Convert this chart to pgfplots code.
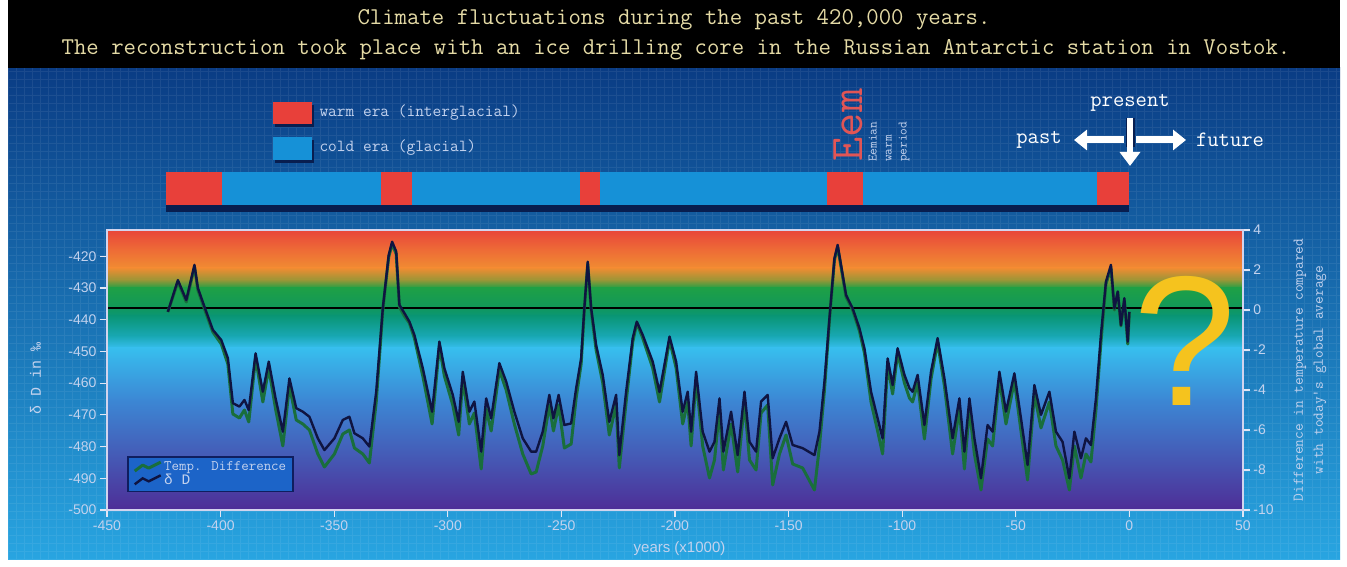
\documentclass[border=0pt]{standalone}
\usepackage{pgfplots}
\usepackage{pgfplotstable}
\pgfplotsset{compat=1.18}
\usepackage{fontspec}
\setmainfont{Liberation Sans}
\newfontfamily\lmono{Liberation Mono}
\usetikzlibrary{arrows.meta}

\definecolor{bgtop}{RGB}{10,60,132}
\definecolor{bgmid}{RGB}{20,105,185}
\definecolor{bgbot}{RGB}{40,165,225}
\definecolor{titlec}{RGB}{228,218,165}
\definecolor{labc}{RGB}{195,210,238}
\definecolor{framec}{RGB}{210,212,238}
\definecolor{tickc}{RGB}{225,230,245}
\definecolor{warmc}{RGB}{232,64,58}
\definecolor{coldc}{RGB}{22,145,215}
\definecolor{barshadow}{RGB}{8,30,80}
\definecolor{eemc}{RGB}{225,85,85}
\definecolor{qyellow}{RGB}{245,195,30}
\definecolor{greenc}{RGB}{25,110,60}
\definecolor{navyc}{RGB}{15,20,65}
\definecolor{legfill}{RGB}{28,100,200}
\definecolor{legdraw}{RGB}{15,30,95}
\definecolor{c1}{RGB}{232,68,58}
\definecolor{c2}{RGB}{238,108,54}
\definecolor{c3}{RGB}{240,140,50}
\definecolor{c4}{RGB}{150,150,55}
\definecolor{c5}{RGB}{30,160,70}
\definecolor{c6}{RGB}{18,152,88}
\definecolor{c7}{RGB}{10,150,118}
\definecolor{c8}{RGB}{25,168,180}
\definecolor{c9}{RGB}{55,190,238}
\definecolor{c10}{RGB}{60,135,212}
\definecolor{c11}{RGB}{68,95,185}
\definecolor{c12}{RGB}{78,45,150}

% delta D (per mil), navy series
\pgfplotstableread{
year dD
-423.2 -437.5
-418.8 -427.5
-415.1 -433.8
-411.5 -422.7
-410.0 -430.0
-407.1 -435.9
-403.4 -443.2
-399.7 -446.4
-396.8 -452.1
-394.6 -466.3
-391.7 -467.4
-389.5 -465.3
-387.6 -468.5
-384.6 -450.6
-381.4 -462.7
-378.8 -453.2
-375.8 -464.8
-372.6 -475.3
-369.7 -458.5
-366.7 -467.9
-363.8 -469.0
-360.9 -470.6
-357.2 -477.4
-354.3 -481.1
-349.9 -477.4
-346.2 -471.6
-343.3 -470.6
-341.1 -475.8
-337.4 -477.4
-334.5 -480.0
-331.5 -462.7
-328.6 -436.4
-326.0 -419.6
-324.5 -415.4
-322.7 -418.5
-321.3 -435.3
-319.1 -437.9
-316.9 -440.6
-314.7 -444.8
-311.0 -455.3
-306.9 -469.0
-303.7 -446.9
-301.5 -455.3
-297.8 -463.7
-295.2 -472.2
-293.4 -456.4
-290.5 -469.0
-288.3 -465.8
-285.3 -481.6
-283.1 -464.8
-280.9 -471.1
-277.3 -453.7
-274.3 -459.5
-270.7 -469.0
-267.0 -477.4
-263.3 -481.6
-261.1 -481.6
-258.2 -475.3
-255.3 -463.7
-253.5 -471.1
-251.2 -463.7
-248.7 -473.2
-245.7 -472.7
-243.5 -461.6
-241.3 -452.2
-239.9 -436.4
-238.4 -421.7
-236.9 -436.4
-234.7 -448.0
-231.8 -457.4
-228.9 -472.2
-225.9 -463.7
-224.5 -482.7
-221.5 -462.7
-218.6 -445.8
-216.8 -440.6
-214.2 -444.8
-209.8 -453.2
-206.8 -462.8
-202.4 -445.3
-199.5 -453.2
-196.6 -469.0
-194.4 -462.7
-192.9 -475.3
-190.7 -456.4
-187.8 -475.3
-184.8 -481.6
-182.6 -478.5
-180.4 -464.8
-178.7 -481.6
-175.3 -469.0
-172.4 -482.7
-169.4 -462.7
-167.2 -478.5
-164.3 -481.6
-162.1 -465.8
-159.2 -463.7
-157.0 -483.7
-154.0 -477.4
-151.1 -472.2
-148.2 -479.5
-143.8 -480.5
-138.6 -482.7
-136.4 -475.3
-134.2 -459.5
-132.0 -439.5
-129.8 -420.6
-128.4 -416.4
-126.9 -422.7
-124.7 -432.2
-121.8 -436.4
-118.8 -442.7
-116.6 -449.0
-113.7 -462.7
-110.8 -471.1
-108.6 -477.4
-106.4 -452.2
-104.2 -460.6
-102.0 -449.0
-99.0 -457.4
-96.8 -461.6
-95.4 -462.7
-93.2 -457.4
-90.2 -473.2
-87.3 -456.4
-84.4 -445.8
-81.4 -458.5
-77.8 -477.4
-74.8 -464.8
-72.6 -481.6
-70.4 -464.8
-68.2 -477.4
-65.3 -490.0
-62.4 -473.2
-60.2 -475.3
-57.2 -456.4
-54.3 -469.0
-50.6 -456.9
-47.7 -471.1
-44.8 -485.8
-41.8 -460.6
-38.9 -470.0
-35.2 -462.7
-32.3 -475.3
-29.4 -478.5
-26.4 -490.0
-24.2 -475.3
-21.3 -483.7
-19.1 -477.4
-16.9 -479.5
-14.7 -464.8
-12.5 -444.8
-10.3 -428.0
-8.1 -422.7
-6.6 -436.4
-5.1 -431.1
-3.7 -441.7
-2.2 -433.2
-0.7 -446.9
0.0 -437.5
}\dDdata

% temperature difference (deg C), green series
\pgfplotstableread{
year T
-423.2 -0.1
-418.8 1.4
-415.1 0.4
-411.5 2.15
-410.0 1.0
-407.1 0.05
-403.4 -1.1
-399.7 -1.7
-396.8 -2.7
-394.6 -5.2
-391.7 -5.4
-389.5 -5.0
-387.6 -5.6
-384.6 -2.4
-381.4 -4.6
-378.8 -2.9
-375.8 -4.95
-372.6 -6.8
-369.7 -3.8
-366.7 -5.5
-363.8 -5.7
-360.9 -6.0
-357.2 -7.2
-354.3 -7.85
-349.9 -7.2
-346.2 -6.2
-343.3 -6.0
-341.1 -6.9
-337.4 -7.2
-334.5 -7.65
-331.5 -4.6
-328.6 0.0
-326.0 2.65
-324.5 3.3
-322.7 2.8
-321.3 0.15
-319.1 -0.3
-316.9 -0.65
-314.7 -1.4
-311.0 -3.3
-306.9 -5.7
-303.7 -1.8
-301.5 -3.3
-297.8 -4.75
-295.2 -6.25
-293.4 -3.45
-290.5 -5.7
-288.3 -5.15
-285.3 -7.95
-283.1 -4.95
-280.9 -6.05
-277.3 -3.0
-274.3 -4.0
-270.7 -5.7
-267.0 -7.2
-263.3 -8.2
-261.1 -8.1
-258.2 -6.8
-255.3 -4.75
-253.5 -6.05
-251.2 -4.75
-248.7 -6.9
-245.7 -6.7
-243.5 -4.4
-241.3 -2.7
-239.9 0.0
-238.4 2.3
-236.9 0.0
-234.7 -2.0
-231.8 -3.65
-228.9 -6.25
-225.9 -4.75
-224.5 -7.9
-221.5 -4.6
-218.6 -1.6
-216.8 -0.65
-214.2 -1.4
-209.8 -2.9
-206.8 -4.6
-202.4 -1.5
-199.5 -2.9
-196.6 -5.7
-194.4 -4.6
-192.9 -6.8
-190.7 -3.45
-187.8 -6.8
-184.8 -8.4
-182.6 -7.5
-180.4 -4.95
-178.7 -8.0
-175.3 -5.7
-172.4 -8.1
-169.4 -4.6
-167.2 -7.5
-164.3 -8.0
-162.1 -5.15
-159.2 -4.75
-157.0 -8.75
-154.0 -7.2
-151.1 -6.25
-148.2 -7.7
-143.8 -7.9
-138.6 -9.0
-136.4 -6.8
-134.2 -4.0
-132.0 -0.5
-129.8 2.5
-128.4 3.15
-126.9 2.15
-124.7 0.65
-121.8 0.0
-118.8 -1.05
-116.6 -2.15
-113.7 -4.6
-110.8 -6.05
-108.6 -7.2
-106.4 -2.7
-104.2 -4.2
-102.0 -2.15
-99.0 -3.65
-96.8 -4.4
-95.4 -4.6
-93.2 -3.65
-90.2 -6.45
-87.3 -3.45
-84.4 -1.6
-81.4 -3.8
-77.8 -7.2
-74.8 -4.95
-72.6 -7.95
-70.4 -4.95
-68.2 -7.2
-65.3 -9.0
-62.4 -6.45
-60.2 -6.8
-57.2 -3.45
-54.3 -5.7
-50.6 -3.55
-47.7 -6.05
-44.8 -8.5
-41.8 -4.2
-38.9 -5.9
-35.2 -4.6
-32.3 -6.8
-29.4 -7.5
-26.4 -9.0
-24.2 -6.8
-21.3 -8.4
-19.1 -7.2
-16.9 -7.6
-14.7 -5.0
-12.5 -1.6
-10.3 1.3
-8.1 2.1
-6.6 0.0
-5.1 0.9
-3.7 -0.8
-2.2 0.5
-0.7 -1.7
0.0 -0.1
}\Tdata

\pgfplotsset{
  vostok/.style={
    at={(107pt,57pt)}, anchor=south west, scale only axis,
    width=1136pt, height=280pt, xmin=-450, xmax=50,
    tick align=outside, major tick length=7pt,
    tick style={tickc, line width=1.2pt},
    axis line style={framec, line width=1.6pt},
    /pgf/number format/assume math mode=true,
    ticklabel style={font=\fontsize{14}{14}\selectfont, text=labc},
  }
}

\begin{document}
\begin{tikzpicture}[x=1pt,y=1pt]
% page background
\fill[white] (0,0) rectangle (1347,567);
\shade[top color=bgtop, middle color=bgmid, bottom color=bgbot] (8,7) rectangle (1340,499);
\begin{scope}
\clip (8,7) rectangle (1340,499);
\draw[white, opacity=0.07, line width=0.5pt] (8,7) grid[step=8] (1340,499);
\end{scope}
% title band
\fill[black] (8,499) rectangle (1340,567);
\node[text=titlec, font=\ttfamily\fontsize{24.1}{27}\selectfont] at (674,547)
  {Climate fluctuations during the past 420,000 years.};
\node[text=titlec, font=\ttfamily\fontsize{24.1}{27}\selectfont] at (676,517)
  {The reconstruction took place with an ice drilling core in the Russian Antarctic station in Vostok.};

% temperature axis (right), background bands and green series
\begin{axis}[vostok,
  ymin=-10, ymax=4,
  xtick=\empty, ytick={-10,-8,...,4},
  ytick pos=right, yticklabel pos=right,
  ylabel={Difference in temperature compared\\with today's global average},
  every axis y label/.style={at={(axis description cs:1.059,0.5)}, anchor=center,
    rotate=90, align=center, font=\ttfamily\fontsize{15}{20}\selectfont, text=labc},
  legend style={at={(axis description cs:0.018,0.064)}, anchor=south west,
    fill=legfill, draw=legdraw, line width=1.5pt,
    font=\ttfamily\fontsize{14.5}{16}\selectfont, text=labc,
    inner xsep=5pt, inner ysep=3pt, row sep=-2pt},
  legend cell align=left,
  legend image code/.code={\draw[#1] (0pt,-4pt) -- (8pt,2pt) -- (14pt,-1pt) -- (26pt,5pt);},
]
\fill[top color=c1, bottom color=c2] (axis cs:-450,4.05) rectangle (axis cs:50,2.98);
\fill[top color=c2, bottom color=c3] (axis cs:-450,3.0) rectangle (axis cs:50,2.08);
\fill[top color=c3, bottom color=c4] (axis cs:-450,2.1) rectangle (axis cs:50,1.48);
\fill[top color=c4, bottom color=c5] (axis cs:-450,1.5) rectangle (axis cs:50,1.08);
\fill[top color=c5, bottom color=c6] (axis cs:-450,1.1) rectangle (axis cs:50,0.18);
\fill[top color=c6, bottom color=c7] (axis cs:-450,0.2) rectangle (axis cs:50,-0.32);
\fill[top color=c7, bottom color=c8] (axis cs:-450,-0.3) rectangle (axis cs:50,-1.32);
\fill[top color=c8, bottom color=c9] (axis cs:-450,-1.3) rectangle (axis cs:50,-1.92);
\fill[top color=c9, bottom color=c10] (axis cs:-450,-1.9) rectangle (axis cs:50,-4.52);
\fill[top color=c10, bottom color=c11] (axis cs:-450,-4.5) rectangle (axis cs:50,-7.02);
\fill[top color=c11, bottom color=c12] (axis cs:-450,-7.0) rectangle (axis cs:50,-10.05);
\draw[black, line width=1.6pt] (axis cs:-450,0.1) -- (axis cs:50,0.1);
\addplot[greenc, line width=3pt, line join=round] table[x=year, y=T] {\Tdata};
\addlegendentry{Temp. Difference}
\addlegendimage{navyc, line width=2.4pt}
\addlegendentry{{\lmono δ D}}
\end{axis}

% delta D axis (left), navy series
\begin{axis}[vostok,
  ymin=-500, ymax=-411.7,
  xtick={-450,-400,...,50}, ytick={-500,-490,...,-420},
  ytick pos=left, xtick pos=left,
  xlabel={years (x1000)},
  ylabel={{\lmono δ D in ‰}},
  every axis x label/.style={at={(axis description cs:0.504,-0.139)}, anchor=center,
    font=\fontsize{15}{15}\selectfont, text=labc},
  every axis y label/.style={at={(axis description cs:-0.063,0.47)}, anchor=center,
    rotate=90, font=\fontsize{15}{15}\selectfont, text=labc},
]
\addplot[navyc, line width=2.4pt, line join=round] table[x=year, y=dD] {\dDdata};
\end{axis}

% era bar
\begin{axis}[at={(107pt,362pt)}, anchor=south west, scale only axis,
  width=1136pt, height=33pt, xmin=-450, xmax=50, ymin=0, ymax=1,
  hide axis, clip=false]
\fill[barshadow] (axis cs:-424,-0.2) rectangle (axis cs:0,0.02);
\addplot[draw=none, fill=warmc] coordinates {(-424,1) (-399.2,1)} \closedcycle;
\addplot[draw=none, fill=coldc] coordinates {(-399.2,1) (-329.2,1)} \closedcycle;
\addplot[draw=none, fill=warmc] coordinates {(-329.2,1) (-315.6,1)} \closedcycle;
\addplot[draw=none, fill=coldc] coordinates {(-315.6,1) (-241.6,1)} \closedcycle;
\addplot[draw=none, fill=warmc] coordinates {(-241.6,1) (-232.8,1)} \closedcycle;
\addplot[draw=none, fill=coldc] coordinates {(-232.8,1) (-132.9,1)} \closedcycle;
\addplot[draw=none, fill=warmc] coordinates {(-132.9,1) (-117.1,1)} \closedcycle;
\addplot[draw=none, fill=coldc] coordinates {(-117.1,1) (-14.1,1)} \closedcycle;
\addplot[draw=none, fill=warmc] coordinates {(-14.1,1) (0,1)} \closedcycle;
\end{axis}

% era legend
\fill[barshadow] (275,440) rectangle (314,462);
\fill[warmc] (273,443) rectangle (312,465);
\node[anchor=west, text=labc, font=\ttfamily\fontsize{16.9}{18}\selectfont] at (316,454) {warm era (interglacial)};
\fill[barshadow] (275,404) rectangle (314,427);
\fill[coldc] (273,407) rectangle (312,430);
\node[anchor=west, text=labc, font=\ttfamily\fontsize{16.9}{18}\selectfont] at (316,419) {cold era (glacial)};

% Eem
\node[rotate=90, text=eemc, font=\ttfamily\fontsize{47}{47}\selectfont, inner sep=0] at (848,442) {Eem};
\node[rotate=90, anchor=west, align=left, text=labc, font=\ttfamily\fontsize{13}{15}\selectfont, inner sep=0] at (889,405) {Eemian\\warm\\period};

% present / past / future
\node[text=white, font=\ttfamily\fontsize{22}{22}\selectfont] at (1130,464) {present};
\node[text=white, font=\ttfamily\fontsize{22}{22}\selectfont] at (1039,427) {past};
\node[text=white, font=\ttfamily\fontsize{22}{22}\selectfont] at (1230,427) {future};
\draw[white, line width=7pt, -{Triangle[width=20pt,length=13pt]}] (1124,427) -- (1074,427);
\draw[white, line width=7pt, -{Triangle[width=20pt,length=13pt]}] (1136,427) -- (1186,427);
\draw[barshadow, line width=9pt] (1130,449) -- (1130,420);
\draw[white, line width=6pt, -{Triangle[width=20pt,length=14pt]}] (1130,449) -- (1130,401);

% question mark
\node[text=qyellow, font=\fontsize{185}{185}\selectfont, inner sep=0] at (1185,226) {?};
\end{tikzpicture}
\end{document}
